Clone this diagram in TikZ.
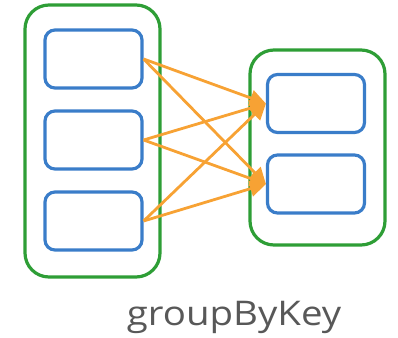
\documentclass[tikz,border=0pt]{standalone}
\usepackage{fontspec}
\setsansfont{Open Sans}
\usepackage{xcolor}
\usetikzlibrary{arrows.meta}

\definecolor{grpgreen}{HTML}{2E9E36}
\definecolor{partblue}{HTML}{3A7DC9}
\definecolor{flowor}{HTML}{F7A234}
\definecolor{lblgray}{HTML}{585858}

\tikzset{
    group/.style={draw=grpgreen, line width=3.2pt, rounded corners=24pt},
    part/.style={draw=partblue, line width=3.2pt, rounded corners=10pt, minimum width=97pt, minimum height=58pt},
    flow/.style={draw=flowor, line width=2.8pt, -{Triangle[length=16pt,width=16pt]}}
}

\begin{document}
\begin{tikzpicture}[x=1pt, y=-1pt]
    \useasboundingbox (0,0) rectangle (398,337);

    % input and output groups
    \node[group, minimum width=135pt, minimum height=272pt] (lgrp) at (92.5,141) {};
    \node[group, minimum width=135pt, minimum height=195pt] (rgrp) at (317.5,147.5) {};

    \node[part] (l1) at (93.5,59) {};
    \node[part] (l2) at (93.5,140) {};
    \node[part] (l3) at (93.5,221) {};
    \node[part] (r1) at (316,103.5) {};
    \node[part] (r2) at (316,184) {};

    % every input goes to every output
    \foreach \src in {l1,l2,l3}
        \foreach \dst in {r1,r2}
            \draw[flow] (\src.east) -- (\dst.west);

    \node[anchor=base, text=lblgray, font=\sffamily\fontsize{34}{36}\selectfont] (lbl) at (234,325) {\scalebox{1.13}[1]{groupByKey}};
\end{tikzpicture}
\end{document}
